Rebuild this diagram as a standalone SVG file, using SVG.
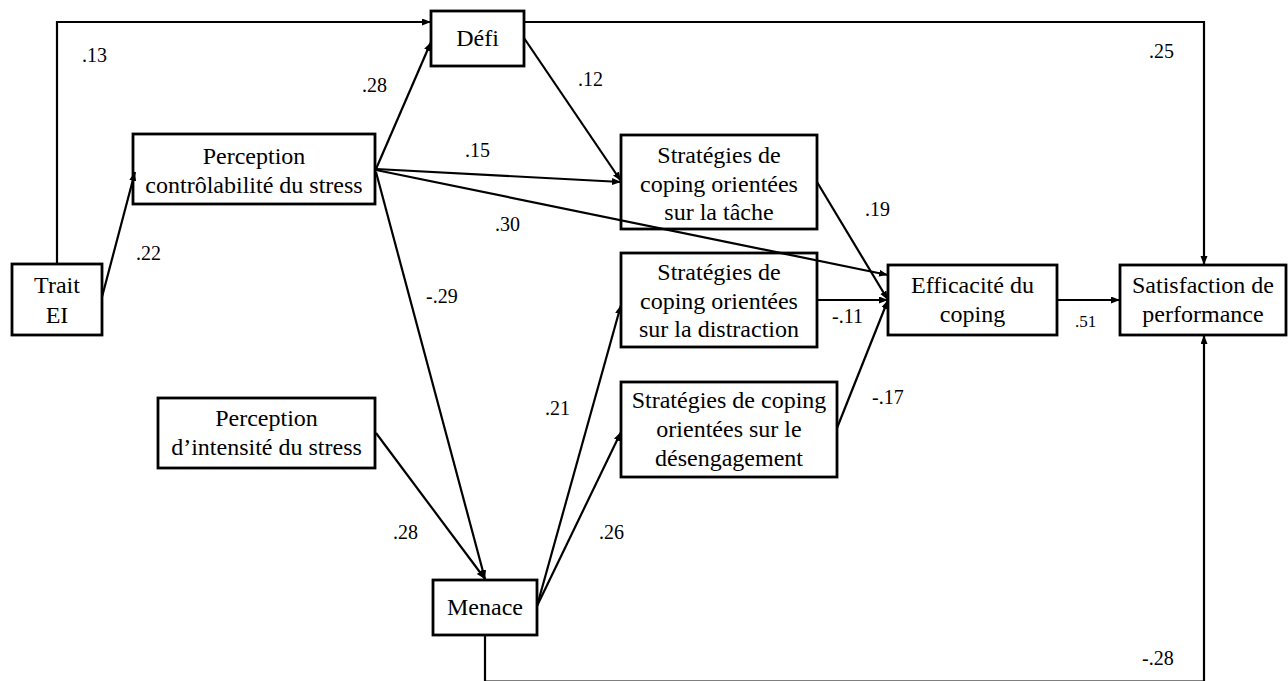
<svg xmlns="http://www.w3.org/2000/svg" width="1288" height="681" viewBox="0 0 1288 681">
  <style>
    .box { fill: #fff; stroke: #000; stroke-width: 2.8; }
    .lbl { font-size: 24px; fill: #000; text-anchor: middle; }
    .coef { font-size: 20px; fill: #000; }
    .edge { fill: none; stroke: #000; stroke-width: 2.2; }
    .arr { marker-end: url(#head); }
  </style>
  <defs>
    <marker id="head" markerUnits="userSpaceOnUse" markerWidth="10" markerHeight="8" refX="9" refY="3.5" orient="auto">
      <path d="M0,0 L9,3.5 L0,7 z" fill="#000"/>
    </marker>
  </defs>
  <rect width="1288" height="681" fill="#fff"/>

  <g font-family="'Liberation Serif', 'DejaVu Serif', serif">
  <!-- nodes -->
  <g id="node-trait-ei">
    <rect class="box" x="12" y="264" width="90" height="71"/>
    <text class="lbl" x="57" y="293">Trait</text>
    <text class="lbl" x="57" y="323">EI</text>
  </g>
  <g id="node-defi">
    <rect class="box" x="431" y="11" width="93" height="55"/>
    <text class="lbl" x="477.5" y="46">Défi</text>
  </g>
  <g id="node-perception-controlabilite">
    <rect class="box" x="133" y="134" width="242" height="70"/>
    <text class="lbl" x="254" y="164">Perception</text>
    <text class="lbl" x="254" y="193">contrôlabilité du stress</text>
  </g>
  <g id="node-perception-intensite">
    <rect class="box" x="158" y="398" width="217" height="70"/>
    <text class="lbl" x="266.5" y="426">Perception</text>
    <text class="lbl" x="266.5" y="455">d’intensité du stress</text>
  </g>
  <g id="node-strategies-tache">
    <rect class="box" x="621" y="135" width="196" height="94"/>
    <text class="lbl" x="719" y="163">Stratégies de</text>
    <text class="lbl" x="719" y="192">coping orientées</text>
    <text class="lbl" x="719" y="220">sur la tâche</text>
  </g>
  <g id="node-strategies-distraction">
    <rect class="box" x="621" y="253" width="196" height="94"/>
    <text class="lbl" x="719" y="280">Stratégies de</text>
    <text class="lbl" x="719" y="309">coping orientées</text>
    <text class="lbl" x="719" y="337">sur la distraction</text>
  </g>
  <g id="node-strategies-desengagement">
    <rect class="box" x="621" y="382" width="216" height="95"/>
    <text class="lbl" x="729" y="408">Stratégies de coping</text>
    <text class="lbl" x="729" y="437">orientées sur le</text>
    <text class="lbl" x="729" y="466">désengagement</text>
  </g>
  <g id="node-menace">
    <rect class="box" x="433" y="580" width="104" height="55"/>
    <text class="lbl" x="485" y="615">Menace</text>
  </g>
  <g id="node-efficacite">
    <rect class="box" x="888" y="265" width="169" height="70"/>
    <text class="lbl" x="972.5" y="293">Efficacité du</text>
    <text class="lbl" x="972.5" y="322">coping</text>
  </g>
  <g id="node-satisfaction">
    <rect class="box" x="1120" y="265" width="166" height="70"/>
    <text class="lbl" x="1203" y="293">Satisfaction de</text>
    <text class="lbl" x="1203" y="322">performance</text>
  </g>

  <!-- connectors, drawn over the boxes where they cross -->
  <g id="connectors">
    <!-- Trait EI -> Défi (over the top) -->
    <path class="edge arr" d="M57,264 V22 H431"/>
    <!-- Défi -> Satisfaction de performance -->
    <path class="edge arr" d="M524,22 H1204 V265"/>
    <!-- Menace -> Satisfaction de performance (under the bottom) -->
    <path class="edge arr" d="M485,636 V681.5 H1204 V335"/>
    <!-- Trait EI -> Perception contrôlabilité -->
    <line class="edge arr" x1="102" y1="297" x2="135" y2="172"/>
    <!-- Perception contrôlabilité -> Défi -->
    <line class="edge arr" x1="376" y1="169" x2="431" y2="42"/>
    <!-- Perception contrôlabilité -> Stratégies tâche -->
    <line class="edge arr" x1="376" y1="169" x2="621" y2="182"/>
    <!-- Perception contrôlabilité -> Efficacité du coping -->
    <line class="edge arr" x1="376" y1="170" x2="888" y2="275"/>
    <!-- Perception contrôlabilité -> Menace -->
    <line class="edge arr" x1="376" y1="172" x2="485" y2="579"/>
    <!-- Défi -> Stratégies tâche -->
    <line class="edge arr" x1="524" y1="38" x2="621" y2="181"/>
    <!-- Perception intensité -> Menace -->
    <line class="edge arr" x1="376" y1="433" x2="485" y2="579"/>
    <!-- Menace -> Stratégies distraction / désengagement -->
    <line class="edge arr" x1="537" y1="606" x2="621" y2="305"/>
    <line class="edge arr" x1="537" y1="606" x2="621" y2="432"/>
    <!-- Stratégies -> Efficacité du coping -->
    <line class="edge arr" x1="817" y1="182" x2="888" y2="300"/>
    <line class="edge arr" x1="817" y1="300" x2="888" y2="300"/>
    <line class="edge arr" x1="837" y1="428" x2="888" y2="300"/>
    <!-- Efficacité -> Satisfaction -->
    <line class="edge arr" x1="1057" y1="300" x2="1120" y2="300"/>
  </g>

  <!-- path coefficients -->
  <g id="coefficients">
    <text class="coef" x="82" y="62">.13</text>
    <text class="coef" x="362" y="92">.28</text>
    <text class="coef" x="578" y="86">.12</text>
    <text class="coef" x="465" y="157">.15</text>
    <text class="coef" x="495" y="231">.30</text>
    <text class="coef" x="1149" y="58">.25</text>
    <text class="coef" x="865" y="216">.19</text>
    <text class="coef" x="1075" y="327" style="font-size:17px">.51</text>
    <text class="coef" x="136" y="260">.22</text>
    <text class="coef" x="426" y="303">-.29</text>
    <text class="coef" x="832" y="323">-.11</text>
    <text class="coef" x="545" y="415">.21</text>
    <text class="coef" x="872" y="404">-.17</text>
    <text class="coef" x="393" y="539">.28</text>
    <text class="coef" x="599" y="539">.26</text>
    <text class="coef" x="1142" y="665">-.28</text>
  </g>
  </g>
</svg>
